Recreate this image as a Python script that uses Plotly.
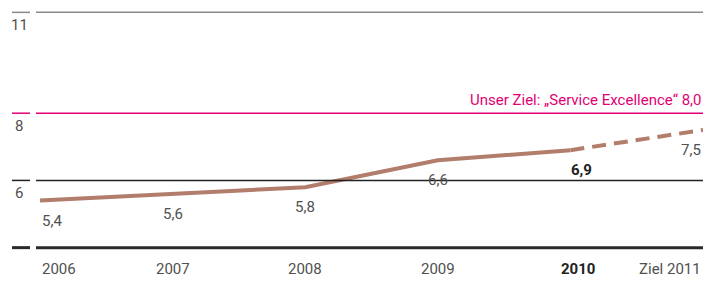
import plotly.graph_objects as go

years = ["2006", "2007", "2008", "2009", "2010", "Ziel 2011"]
values = [5.4, 5.6, 5.8, 6.6, 6.9, 7.5]
value_labels = ["5,4", "5,6", "5,8", "6,6", "6,9", "7,5"]
y_ticks = [11, 8, 6]
y_tick_colors = ["#8a8a8a", "#e20074", "#222222"]
target_value = 8.0
target_label = "Unser Ziel: „Service Excellence“ 8,0"
y_min, y_max = 4, 11
PAD = 0.1

LINE = "#b27d6b"
TXT = "#505050"
FONT = "Roboto, Arial, sans-serif"
FS = 15

xs = list(range(len(years)))
fig = go.Figure()
# solid part 2006-2010
fig.add_trace(go.Scatter(x=xs[:5], y=values[:5], mode="lines",
                         line=dict(color=LINE, width=4), hoverinfo="skip"))
# dashed forecast 2010-2011
fig.add_trace(go.Scatter(x=xs[4:], y=values[4:], mode="lines",
                         line=dict(color=LINE, width=4, dash="14px,8px"), hoverinfo="skip"))

shapes = []
annotations = []
W = 663.0
def px(p):
    return (p - 40) / W

for v, c in zip(y_ticks, y_tick_colors):
    for x0, x1 in [(12, 30), (36, 703)]:
        shapes.append(dict(type="line", xref="paper", yref="y", x0=px(x0), x1=px(x1),
                           y0=v, y1=v, line=dict(color=c, width=1.5)))
    annotations.append(dict(xref="paper", yref="y", x=px(19), y=v, text=str(v),
                            showarrow=False, xanchor="center", yanchor="top", yshift=-2,
                            font=dict(family=FONT, size=FS, color=TXT)))
# baseline
for x0, x1 in [(12, 30), (36, 703)]:
    shapes.append(dict(type="line", xref="paper", yref="y", x0=px(x0), x1=px(x1),
                       y0=y_min, y1=y_min, line=dict(color="#2a2a2a", width=3)))

annotations.append(dict(xref="paper", yref="y", x=1, y=target_value, text=target_label,
                        showarrow=False, xanchor="right", yanchor="bottom", yshift=2,
                        font=dict(family=FONT, size=FS, color="#e20074")))

for i, (x, v, t) in enumerate(zip(xs, values, value_labels)):
    anchor = "left" if i == 0 else ("right" if i == len(xs) - 1 else "center")
    bold = i == 4
    annotations.append(dict(x=x, y=v, text=f"<b>{t}</b>" if bold else t, showarrow=False,
                            xanchor=anchor, yanchor="top", yshift=-9,
                            xshift=11 if bold else 0,
                            font=dict(family=FONT, size=FS, color="#222" if bold else TXT)))
    annotations.append(dict(x=x, y=y_min, text=f"<b>{years[i]}</b>" if bold else years[i],
                            showarrow=False, xanchor=anchor, yanchor="top", yshift=-10,
                            xshift=8 if bold else 0,
                            font=dict(family=FONT, size=FS, color="#222" if bold else TXT)))

fig.update_layout(
    width=703, height=296,
    margin=dict(l=40, r=0, t=9, b=45),
    paper_bgcolor="white", plot_bgcolor="white",
    showlegend=False,
    xaxis=dict(range=[0, 5], visible=False, fixedrange=True),
    yaxis=dict(range=[y_min - PAD, y_max + PAD], visible=False, fixedrange=True),
    shapes=shapes, annotations=annotations,
)
fig.write_html("out.html", config={"displayModeBar": False},
               post_script="document.body.style.margin='0';document.body.style.overflow='hidden';")
